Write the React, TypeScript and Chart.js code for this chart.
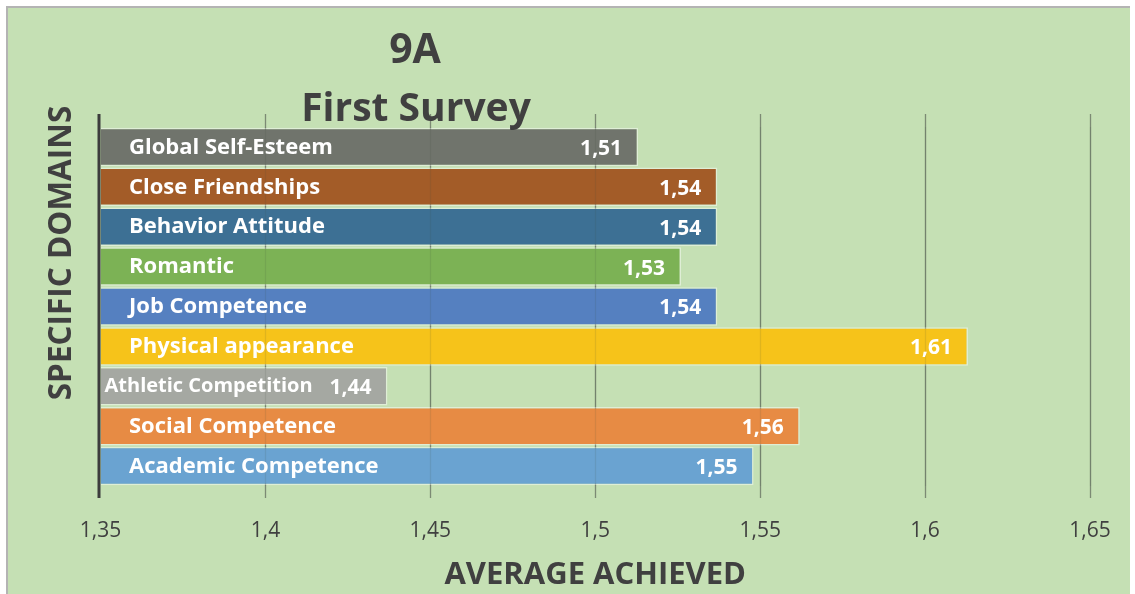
import React, { useEffect, useRef } from "react";
import { Chart, registerables } from "chart.js";

Chart.register(...registerables);

const CATEGORIES = [
  "Global Self-Esteem",
  "Close Friendships",
  "Behavior Attitude",
  "Romantic",
  "Job Competence",
  "Physical appearance",
  "Athletic Competition",
  "Social Competence",
  "Academic Competence",
];
const VALUES = [1.513, 1.537, 1.537, 1.526, 1.537, 1.613, 1.437, 1.562, 1.548];
const COLORS = [
  "#70746C",
  "#A35C28",
  "#3D7094",
  "#7CB255",
  "#5580C0",
  "#F6C31A",
  "#A5A8A2",
  "#E78B44",
  "#6AA3D1",
];
const X_TICKS = [1.35, 1.4, 1.45, 1.5, 1.55, 1.6, 1.65];
const X_TICK_LABELS = ["1,35", "1,4", "1,45", "1,5", "1,55", "1,6", "1,65"];
const TITLE_LINES = ["9A", "First Survey"];
const X_TITLE = "AVERAGE ACHIEVED";
const Y_TITLE = "SPECIFIC DOMAINS";

const FONT = "'Open Sans', 'Liberation Sans', sans-serif";
const TEXT_DARK = "#404040";

const fmt = (v: number) => v.toFixed(2).replace(".", ",");

const decorPlugin = {
  id: "decor",
  beforeDatasetsDraw(chart: any) {
    const { ctx, chartArea } = chart;
    const xs = chart.scales.x;
    ctx.save();
    ctx.strokeStyle = "rgba(110,122,104,0.85)";
    ctx.lineWidth = 1.3;
    X_TICKS.forEach((v, i) => {
      if (i === 0) return;
      const px = Math.round(xs.getPixelForValue(v)) + 0.5;
      ctx.beginPath();
      ctx.moveTo(px, chartArea.top - 13);
      ctx.lineTo(px, chartArea.bottom + 12);
      ctx.stroke();
    });
    ctx.restore();
  },
  afterDatasetsDraw(chart: any) {
    const { ctx, chartArea } = chart;
    const xs = chart.scales.x;
    ctx.save();
    // faint gridlines showing through bars
    ctx.strokeStyle = "rgba(60,70,60,0.12)";
    ctx.lineWidth = 1.3;
    X_TICKS.forEach((v, i) => {
      if (i === 0) return;
      const px = Math.round(xs.getPixelForValue(v)) + 0.5;
      ctx.beginPath();
      ctx.moveTo(px, chartArea.top);
      ctx.lineTo(px, chartArea.bottom);
      ctx.stroke();
    });
    // left axis line
    ctx.strokeStyle = "#3c3c3c";
    ctx.lineWidth = 3;
    ctx.beginPath();
    ctx.moveTo(chartArea.left - 1.5, chartArea.top - 13);
    ctx.lineTo(chartArea.left - 1.5, chartArea.bottom + 12);
    ctx.stroke();

    // labels inside bars
    const meta = chart.getDatasetMeta(0);
    ctx.fillStyle = "#ffffff";
    ctx.textBaseline = "middle";
    meta.data.forEach((bar: any, i: number) => {
      const val = fmt(VALUES[i]);
      ctx.font = `bold 21px ${FONT}`;
      const valW = ctx.measureText(val).width;
      const valRight = bar.x - 16;
      ctx.textAlign = "right";
      ctx.fillText(val, valRight, bar.y + 2);

      let size = 22;
      let pad = 28.5;
      ctx.font = `bold ${size}px ${FONT}`;
      const w = ctx.measureText(CATEGORIES[i]).width;
      if (bar.base + pad + w > valRight - valW - 12) {
        size = 20;
        pad = 4;
        ctx.font = `bold ${size}px ${FONT}`;
      }
      ctx.textAlign = "left";
      ctx.fillText(CATEGORIES[i], bar.base + pad, bar.y + 0.5);
    });
    ctx.restore();
  },
  afterDraw(chart: any) {
    const { ctx } = chart;
    ctx.save();
    ctx.fillStyle = TEXT_DARK;
    ctx.textAlign = "center";
    ctx.textBaseline = "alphabetic";
    ctx.font = `bold 41px ${FONT}`;
    ctx.fillText(TITLE_LINES[0], 407, 55);
    ctx.font = `bold 39px ${FONT}`;
    ctx.fillText(TITLE_LINES[1], 408, 113);

    ctx.translate(54, 245);
    ctx.rotate(-Math.PI / 2);
    ctx.textBaseline = "middle";
    ctx.font = `bold 31.5px ${FONT}`;
    ctx.fillText(Y_TITLE, 0, 0);
    ctx.restore();
  },
};

export default function App() {
  const canvasRef = useRef<HTMLCanvasElement | null>(null);

  useEffect(() => {
    if (!canvasRef.current) return;
    const chart = new Chart(canvasRef.current, {
      type: "bar",
      data: {
        labels: CATEGORIES,
        datasets: [
          {
            data: VALUES,
            backgroundColor: COLORS,
            borderColor: "rgba(255,255,255,0.45)",
            borderWidth: 1.5,
            categoryPercentage: 1,
            barPercentage: 0.965,
            base: 1.35,
          },
        ],
      },
      options: {
        indexAxis: "y",
        animation: false,
        responsive: false,
        maintainAspectRatio: false,
        layout: { padding: { left: 92.5, right: 40, top: 119, bottom: 0 } },
        plugins: {
          legend: { display: false },
          tooltip: { enabled: false },
          title: { display: false },
        },
        scales: {
          x: {
            type: "linear",
            min: 1.35,
            max: 1.65,
            afterBuildTicks: (scale: any) => {
              scale.ticks = X_TICKS.map((v) => ({ value: v }));
            },
            afterFit: (scale: any) => {
              scale.height = 108;
              scale.paddingLeft = 0;
              scale.paddingRight = 0;
            },
            grid: { display: false, drawTicks: false },
            border: { display: false },
            ticks: {
              padding: 32,
              color: TEXT_DARK,
              font: { family: FONT, size: 21 },
              maxRotation: 0,
              autoSkip: false,
              callback: (value: any) => {
                const idx = X_TICKS.findIndex((t) => Math.abs(t - Number(value)) < 1e-9);
                return idx >= 0 ? X_TICK_LABELS[idx] : "";
              },
            },
            title: {
              display: true,
              text: X_TITLE,
              color: TEXT_DARK,
              font: { family: FONT, size: 31, weight: "bold" },
              padding: { top: 0, bottom: 0 },
            },
          },
          y: {
            display: false,
          },
        },
      },
      plugins: [decorPlugin],
    });
    return () => chart.destroy();
  }, []);

  return (
    <div
      style={{
        position: "absolute",
        left: 6,
        top: 6,
        width: 1122,
        height: 586,
        borderTop: "2px solid #b4b4b4",
        borderLeft: "2px solid #b4b4b4",
        background: "#C5E0B4",
        overflow: "hidden",
      }}
    >
      <canvas ref={canvasRef} width={1122} height={586} style={{ display: "block" }} />
    </div>
  );
}
